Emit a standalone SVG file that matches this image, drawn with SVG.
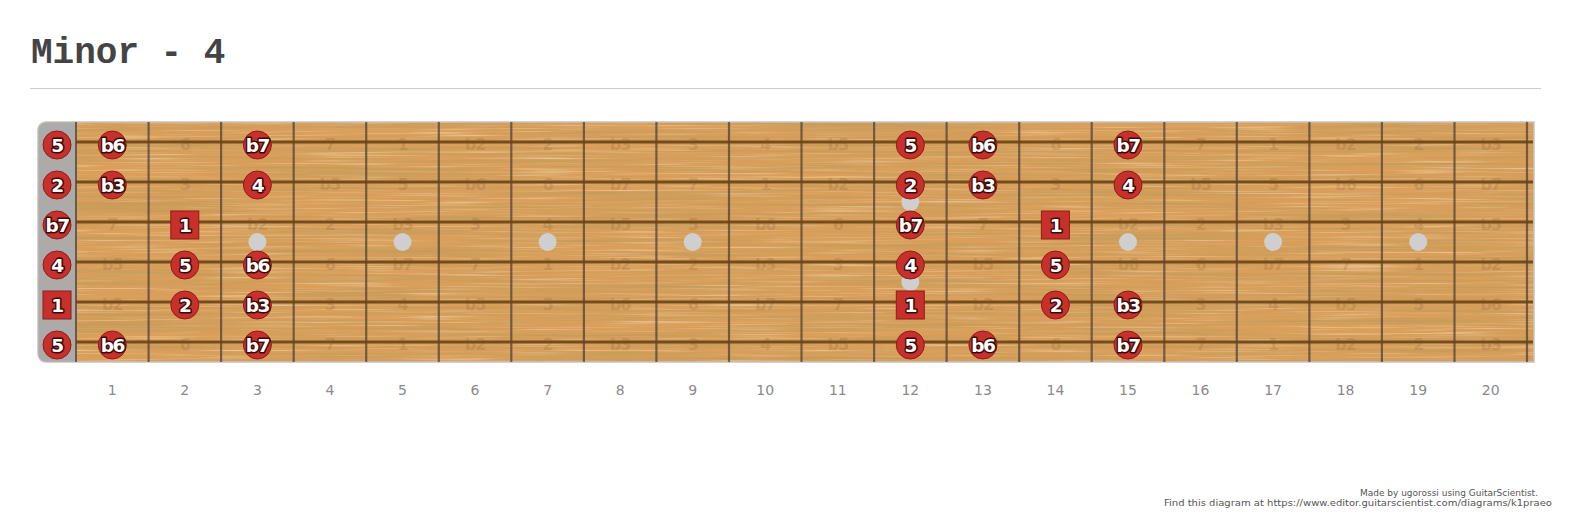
<svg xmlns="http://www.w3.org/2000/svg" width="1573" height="519" viewBox="0 0 1573 519">
<style>
.title{font-family:"Liberation Mono","Courier New",monospace;font-weight:bold;font-size:36px;fill:#444}
.fn{font-family:"DejaVu Sans",Verdana,sans-serif;font-size:14px;fill:#8a8a8a;text-anchor:middle}
.ft{font-family:"DejaVu Sans",Verdana,sans-serif;font-weight:bold;font-size:16px;fill:#7a5226;fill-opacity:.2;text-anchor:middle;letter-spacing:-1px}
.note circle,.note rect{fill:#c8302b;stroke:#8e1d1a;stroke-width:1}
.note text{font-family:"DejaVu Sans",Verdana,sans-serif;font-weight:bold;font-size:18.5px;fill:#fff;stroke:#3a0b09;stroke-width:3px;paint-order:stroke;stroke-linejoin:round;text-anchor:middle;letter-spacing:-1.5px}
.foot{font-family:"DejaVu Sans",Verdana,sans-serif;font-size:9px;fill:#555}
.inlay{fill:#cfcfcf}
</style>
<defs>
<filter id="grain" x="0" y="0" width="100%" height="100%">
<feTurbulence type="fractalNoise" baseFrequency="0.004 0.3" numOctaves="3" seed="7" result="t"/>
<feColorMatrix in="t" type="matrix" values="0 0 0 0 0.58  0 0 0 0 0.33  0 0 0 0 0.1  0 0 0 2.6 -1.05"/>
<feComposite in2="SourceGraphic" operator="in"/>
</filter>
<filter id="grain2" x="0" y="0" width="100%" height="100%">
<feTurbulence type="fractalNoise" baseFrequency="0.01 0.6" numOctaves="2" seed="2" result="t"/>
<feColorMatrix in="t" type="matrix" values="0 0 0 0 0.93  0 0 0 0 0.74  0 0 0 0 0.48  0 0 0 1.6 -0.8"/>
<feComposite in2="SourceGraphic" operator="in"/>
</filter>
</defs>
<rect width="1573" height="519" fill="#fff"/>
<text class="title" x="31" y="63">Minor - 4</text>
<line x1="30" y1="88.5" x2="1541" y2="88.5" stroke="#cccccc" stroke-width="1"/>

<g id="fretboard">
<path d="M46 122H1534V362H46A8 8 0 0 1 38 354V130A8 8 0 0 1 46 122Z" fill="#d99f5b" stroke="#c4c4c4" stroke-width="1.5"/>
<rect x="76" y="123" width="1457" height="238" fill="#000" filter="url(#grain2)"/>
<rect x="76" y="123" width="1457" height="238" fill="#000" filter="url(#grain)"/>
<path d="M46 122.5H76V361.5H46A8 8 0 0 1 38.5 354V130A8 8 0 0 1 46 122.5Z" fill="#ababab"/>
<path d="M39 162.5H76M39 202.5H76M39 242.5H76M39 282.5H76M39 322.5H76" stroke="#c9a27e" stroke-width="1" opacity=".7"/>
<line x1="76" y1="122" x2="76" y2="362" stroke="#6a5a48" stroke-width="2"/>
</g>

<g id="connectors">
<path d="M148.6 122V362M221.1 122V362M293.7 122V362M366.2 122V362M438.8 122V362M511.3 122V362M583.9 122V362M656.4 122V362M729 122V362M801.5 122V362M874.1 122V362M946.6 122V362M1019.2 122V362M1091.7 122V362M1164.3 122V362M1236.8 122V362M1309.4 122V362M1381.9 122V362M1454.5 122V362M1527 122V362" stroke="#4f4236" stroke-opacity=".75" stroke-width="2.2"/>
<path d="M76 142H1533M76 182H1533M76 222H1533M76 262H1533M76 302H1533M76 342H1533" stroke="#6a4214" stroke-width="3.2" stroke-opacity=".9"/>
</g>

<g id="inlays">
<circle class="inlay" cx="257.4" cy="242" r="9"/>
<circle class="inlay" cx="402.5" cy="242" r="9"/>
<circle class="inlay" cx="547.6" cy="242" r="9"/>
<circle class="inlay" cx="692.7" cy="242" r="9"/>
<circle class="inlay" cx="910.3" cy="202" r="9"/>
<circle class="inlay" cx="910.3" cy="282" r="9"/>
<circle class="inlay" cx="1128" cy="242" r="9"/>
<circle class="inlay" cx="1273.1" cy="242" r="9"/>
<circle class="inlay" cx="1418.2" cy="242" r="9"/>
</g>

<g id="faint-labels">
<text class="ft" x="184.8" y="150">6</text><text class="ft" x="329.9" y="150">7</text><text class="ft" x="402.5" y="150">1</text><text class="ft" x="475" y="150">b2</text><text class="ft" x="547.6" y="150">2</text><text class="ft" x="620.1" y="150">b3</text><text class="ft" x="692.7" y="150">3</text><text class="ft" x="765.2" y="150">4</text><text class="ft" x="837.8" y="150">b5</text><text class="ft" x="1055.4" y="150">6</text><text class="ft" x="1200.5" y="150">7</text><text class="ft" x="1273.1" y="150">1</text><text class="ft" x="1345.6" y="150">b2</text><text class="ft" x="1418.2" y="150">2</text><text class="ft" x="1490.7" y="150">b3</text>
<text class="ft" x="184.8" y="190">3</text><text class="ft" x="329.9" y="190">b5</text><text class="ft" x="402.5" y="190">5</text><text class="ft" x="475" y="190">b6</text><text class="ft" x="547.6" y="190">6</text><text class="ft" x="620.1" y="190">b7</text><text class="ft" x="692.7" y="190">7</text><text class="ft" x="765.2" y="190">1</text><text class="ft" x="837.8" y="190">b2</text><text class="ft" x="1055.4" y="190">3</text><text class="ft" x="1200.5" y="190">b5</text><text class="ft" x="1273.1" y="190">5</text><text class="ft" x="1345.6" y="190">b6</text><text class="ft" x="1418.2" y="190">6</text><text class="ft" x="1490.7" y="190">b7</text>
<text class="ft" x="112.3" y="230">7</text><text class="ft" x="257.4" y="230">b2</text><text class="ft" x="329.9" y="230">2</text><text class="ft" x="402.5" y="230">b3</text><text class="ft" x="475" y="230">3</text><text class="ft" x="547.6" y="230">4</text><text class="ft" x="620.1" y="230">b5</text><text class="ft" x="692.7" y="230">5</text><text class="ft" x="765.2" y="230">b6</text><text class="ft" x="837.8" y="230">6</text><text class="ft" x="982.9" y="230">7</text><text class="ft" x="1128" y="230">b2</text><text class="ft" x="1200.5" y="230">2</text><text class="ft" x="1273.1" y="230">b3</text><text class="ft" x="1345.6" y="230">3</text><text class="ft" x="1418.2" y="230">4</text><text class="ft" x="1490.7" y="230">b5</text>
<text class="ft" x="112.3" y="270">b5</text><text class="ft" x="329.9" y="270">6</text><text class="ft" x="402.5" y="270">b7</text><text class="ft" x="475" y="270">7</text><text class="ft" x="547.6" y="270">1</text><text class="ft" x="620.1" y="270">b2</text><text class="ft" x="692.7" y="270">2</text><text class="ft" x="765.2" y="270">b3</text><text class="ft" x="837.8" y="270">3</text><text class="ft" x="982.9" y="270">b5</text><text class="ft" x="1128" y="270">b6</text><text class="ft" x="1200.5" y="270">6</text><text class="ft" x="1273.1" y="270">b7</text><text class="ft" x="1345.6" y="270">7</text><text class="ft" x="1418.2" y="270">1</text><text class="ft" x="1490.7" y="270">b2</text>
<text class="ft" x="112.3" y="310">b2</text><text class="ft" x="329.9" y="310">3</text><text class="ft" x="402.5" y="310">4</text><text class="ft" x="475" y="310">b5</text><text class="ft" x="547.6" y="310">5</text><text class="ft" x="620.1" y="310">b6</text><text class="ft" x="692.7" y="310">6</text><text class="ft" x="765.2" y="310">b7</text><text class="ft" x="837.8" y="310">7</text><text class="ft" x="982.9" y="310">b2</text><text class="ft" x="1200.5" y="310">3</text><text class="ft" x="1273.1" y="310">4</text><text class="ft" x="1345.6" y="310">b5</text><text class="ft" x="1418.2" y="310">5</text><text class="ft" x="1490.7" y="310">b6</text>
<text class="ft" x="184.8" y="350">6</text><text class="ft" x="329.9" y="350">7</text><text class="ft" x="402.5" y="350">1</text><text class="ft" x="475" y="350">b2</text><text class="ft" x="547.6" y="350">2</text><text class="ft" x="620.1" y="350">b3</text><text class="ft" x="692.7" y="350">3</text><text class="ft" x="765.2" y="350">4</text><text class="ft" x="837.8" y="350">b5</text><text class="ft" x="1055.4" y="350">6</text><text class="ft" x="1200.5" y="350">7</text><text class="ft" x="1273.1" y="350">1</text><text class="ft" x="1345.6" y="350">b2</text><text class="ft" x="1418.2" y="350">2</text><text class="ft" x="1490.7" y="350">b3</text>
</g>

<g id="notes">
<g id="s1-f0" class="note"><circle cx="57" cy="145" r="14"/><text x="57" y="151.5">5</text></g>
<g id="s1-f1" class="note"><circle cx="112.3" cy="145" r="14"/><text x="112.3" y="151.5">b6</text></g>
<g id="s1-f3" class="note"><circle cx="257.4" cy="145" r="14"/><text x="257.4" y="151.5">b7</text></g>
<g id="s1-f12" class="note"><circle cx="910.3" cy="145" r="14"/><text x="910.3" y="151.5">5</text></g>
<g id="s1-f13" class="note"><circle cx="982.9" cy="145" r="14"/><text x="982.9" y="151.5">b6</text></g>
<g id="s1-f15" class="note"><circle cx="1128" cy="145" r="14"/><text x="1128" y="151.5">b7</text></g>

<g id="s2-f0" class="note"><circle cx="57" cy="185" r="14"/><text x="57" y="191.5">2</text></g>
<g id="s2-f1" class="note"><circle cx="112.3" cy="185" r="14"/><text x="112.3" y="191.5">b3</text></g>
<g id="s2-f3" class="note"><circle cx="257.4" cy="185" r="14"/><text x="257.4" y="191.5">4</text></g>
<g id="s2-f12" class="note"><circle cx="910.3" cy="185" r="14"/><text x="910.3" y="191.5">2</text></g>
<g id="s2-f13" class="note"><circle cx="982.9" cy="185" r="14"/><text x="982.9" y="191.5">b3</text></g>
<g id="s2-f15" class="note"><circle cx="1128" cy="185" r="14"/><text x="1128" y="191.5">4</text></g>

<g id="s3-f0" class="note"><circle cx="57" cy="225" r="14"/><text x="57" y="231.5">b7</text></g>
<g id="s3-f2" class="note"><rect x="170.8" y="211" width="28" height="28"/><text x="184.8" y="231.5">1</text></g>
<g id="s3-f12" class="note"><circle cx="910.3" cy="225" r="14"/><text x="910.3" y="231.5">b7</text></g>
<g id="s3-f14" class="note"><rect x="1041.4" y="211" width="28" height="28"/><text x="1055.4" y="231.5">1</text></g>

<g id="s4-f0" class="note"><circle cx="57" cy="265" r="14"/><text x="57" y="271.5">4</text></g>
<g id="s4-f2" class="note"><circle cx="184.8" cy="265" r="14"/><text x="184.8" y="271.5">5</text></g>
<g id="s4-f3" class="note"><circle cx="257.4" cy="265" r="14"/><text x="257.4" y="271.5">b6</text></g>
<g id="s4-f12" class="note"><circle cx="910.3" cy="265" r="14"/><text x="910.3" y="271.5">4</text></g>
<g id="s4-f14" class="note"><circle cx="1055.4" cy="265" r="14"/><text x="1055.4" y="271.5">5</text></g>

<g id="s5-f0" class="note"><rect x="43" y="291" width="28" height="28"/><text x="57" y="311.5">1</text></g>
<g id="s5-f2" class="note"><circle cx="184.8" cy="305" r="14"/><text x="184.8" y="311.5">2</text></g>
<g id="s5-f3" class="note"><circle cx="257.4" cy="305" r="14"/><text x="257.4" y="311.5">b3</text></g>
<g id="s5-f12" class="note"><rect x="896.3" y="291" width="28" height="28"/><text x="910.3" y="311.5">1</text></g>
<g id="s5-f14" class="note"><circle cx="1055.4" cy="305" r="14"/><text x="1055.4" y="311.5">2</text></g>
<g id="s5-f15" class="note"><circle cx="1128" cy="305" r="14"/><text x="1128" y="311.5">b3</text></g>

<g id="s6-f0" class="note"><circle cx="57" cy="345" r="14"/><text x="57" y="351.5">5</text></g>
<g id="s6-f1" class="note"><circle cx="112.3" cy="345" r="14"/><text x="112.3" y="351.5">b6</text></g>
<g id="s6-f3" class="note"><circle cx="257.4" cy="345" r="14"/><text x="257.4" y="351.5">b7</text></g>
<g id="s6-f12" class="note"><circle cx="910.3" cy="345" r="14"/><text x="910.3" y="351.5">5</text></g>
<g id="s6-f13" class="note"><circle cx="982.9" cy="345" r="14"/><text x="982.9" y="351.5">b6</text></g>
<g id="s6-f15" class="note"><circle cx="1128" cy="345" r="14"/><text x="1128" y="351.5">b7</text></g>
</g>

<g id="fret-numbers">
<text class="fn" x="112.3" y="395">1</text><text class="fn" x="184.8" y="395">2</text><text class="fn" x="257.4" y="395">3</text><text class="fn" x="329.9" y="395">4</text><text class="fn" x="402.5" y="395">5</text><text class="fn" x="475" y="395">6</text><text class="fn" x="547.6" y="395">7</text><text class="fn" x="620.1" y="395">8</text><text class="fn" x="692.7" y="395">9</text><text class="fn" x="765.2" y="395">10</text><text class="fn" x="837.8" y="395">11</text><text class="fn" x="910.3" y="395">12</text><text class="fn" x="982.9" y="395">13</text><text class="fn" x="1055.4" y="395">14</text><text class="fn" x="1128" y="395">15</text><text class="fn" x="1200.5" y="395">16</text><text class="fn" x="1273.1" y="395">17</text><text class="fn" x="1345.6" y="395">18</text><text class="fn" x="1418.2" y="395">19</text><text class="fn" x="1490.7" y="395">20</text>
</g>

<g id="footer">
<text class="foot" x="1360" y="496" textLength="178" lengthAdjust="spacingAndGlyphs">Made by ugorossi using GuitarScientist.</text>
<text class="foot" x="1164" y="506" textLength="388" lengthAdjust="spacingAndGlyphs">Find this diagram at https://www.editor.guitarscientist.com/diagrams/k1praeo</text>
</g>
</svg>
